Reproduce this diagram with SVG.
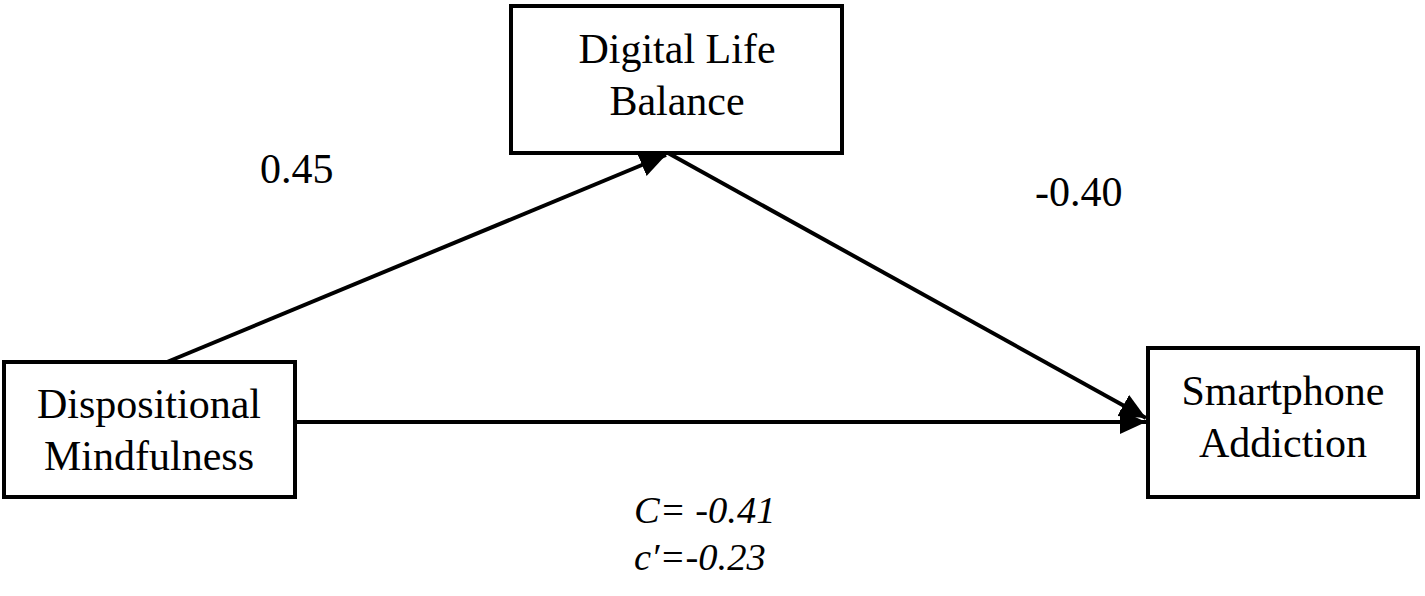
<svg xmlns="http://www.w3.org/2000/svg" width="1425" height="596" viewBox="0 0 1425 596">
<defs>
<marker id="ah" markerUnits="userSpaceOnUse" markerWidth="30" markerHeight="26" refX="26" refY="12" orient="auto">
<path d="M0,0 L26,12 L0,24 Z" fill="#000"/>
</marker>
</defs>
<style>
.box{fill:#fff;stroke:#000;stroke-width:4}
.t{font-family:"Liberation Serif","Times New Roman",serif;font-size:42px;fill:#000}
.c{text-anchor:middle}
.i{font-style:italic;font-size:38.5px}
.ln{stroke:#000;stroke-width:4;fill:none}
</style>
<rect width="1425" height="596" fill="#fff"/>
<g id="connectors">
<line class="ln" x1="167" y1="362" x2="666" y2="155" marker-end="url(#ah)"/>
<line class="ln" x1="668" y1="153" x2="1146" y2="418" marker-end="url(#ah)"/>
<line class="ln" x1="295" y1="422" x2="1146" y2="422" marker-end="url(#ah)"/>
</g>
<g id="node-dlb">
<rect class="box" x="511" y="6" width="331" height="147"/>
<text class="t c" x="677" y="63">Digital Life</text>
<text class="t c" x="677" y="115">Balance</text>
</g>
<g id="node-dm">
<rect class="box" x="4" y="362" width="291" height="135"/>
<text class="t c" x="149" y="418">Dispositional</text>
<text class="t c" x="149" y="470">Mindfulness</text>
</g>
<g id="node-sa">
<rect class="box" x="1148" y="348" width="270" height="149"/>
<text class="t c" x="1283" y="405">Smartphone</text>
<text class="t c" x="1283" y="457">Addiction</text>
</g>
<g id="labels">
<text class="t" x="260" y="183">0.45</text>
<text class="t" x="1035" y="206">-0.40</text>
<text class="t i" x="634" y="523">C= -0.41</text>
<text class="t i" x="634" y="570">c′=-0.23</text>
</g>
</svg>
